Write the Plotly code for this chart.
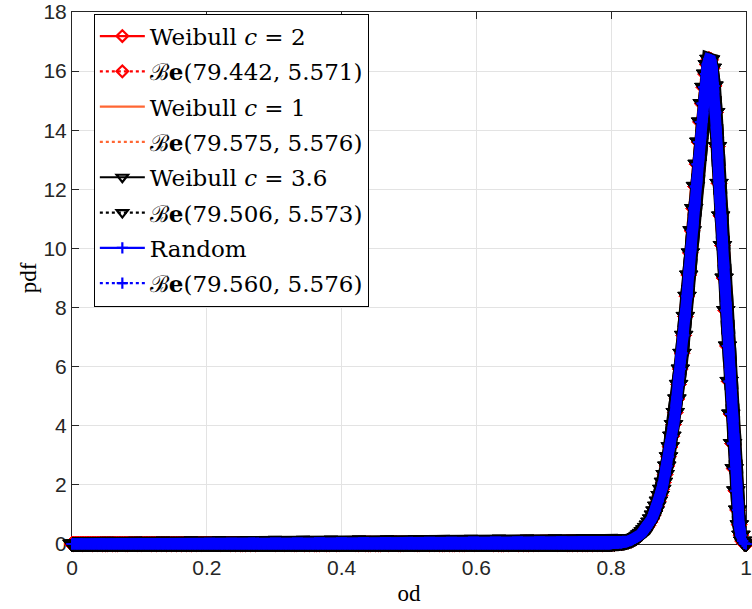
import numpy as np
import plotly.graph_objects as go

# ---- data ----
# sampling grid of the estimated densities (od in [0, 1])
od_flat = np.round(np.arange(0.0, 0.8, 0.0025), 4)          # 0 ... 0.7975
pdf_flat = [0.0] * len(od_flat)                              # density ~ 0 here

od_peak = np.round(np.arange(0.8, 1.00001, 0.0025), 4)       # 0.80 ... 1.00
pdf_peak = [
    0.01, 0.02, 0.02, 0.03, 0.03, 0.04, 0.04, 0.05, 0.06, 0.07,
    0.09, 0.11, 0.13, 0.16, 0.19, 0.22, 0.26, 0.31, 0.36, 0.42,
    0.48, 0.56, 0.64, 0.74, 0.85, 0.98, 1.12, 1.28, 1.45, 1.64,
    1.85, 2.09, 2.35, 2.64, 2.95, 3.29, 3.65, 4.04, 4.45, 4.91,
    5.40, 5.92, 6.45, 7.06, 7.70, 8.38, 9.10, 9.85, 10.60, 11.35,
    12.10, 12.85, 13.60, 14.28, 14.90, 15.45, 15.90, 16.22, 16.40, 16.38,
    16.10, 15.50, 14.60, 13.45, 12.20, 11.10, 10.10, 9.00, 7.90, 6.70,
    5.50, 4.40, 3.40, 2.55, 1.80, 1.15, 0.65, 0.30, 0.10, 0.02,
    0.00,
]

methods = ["Weibull <i>c</i> = 2", "Weibull <i>c</i> = 1",
           "Weibull <i>c</i> = 3.6", "Random"]
beta_a = [79.442, 79.575, 79.506, 79.560]
beta_b = [5.571, 5.576, 5.573, 5.576]

od = np.concatenate([od_flat, od_peak])
pdf = list(pdf_flat) + list(pdf_peak)

# ---- styles ----
styles = [
    dict(color="#FF0000", symbol="diamond-open", fsym="diamond", band=13, msize=12, mlw=1, lsize=9),
    dict(color="#FF6633", symbol=None, fsym=None, band=12, msize=0, mlw=0, lsize=0),
    dict(color="#000000", symbol="triangle-down-open", fsym="triangle-down", band=14, msize=16, mlw=1, lsize=10),
    dict(color="#0000FF", symbol="cross-thin-open", fsym="cross-thin-open", band=11, msize=8, mlw=2, lsize=8),
]

fig = go.Figure()

# drawn curves (dense marker bands)
for m, a, b, st in zip(methods, beta_a, beta_b, styles):
    for dash in ["solid", "dot"]:
        kw = dict(mode="lines")
        if st["symbol"]:
            kw = dict(mode="lines+markers",
                      marker=dict(symbol=st["fsym"], size=st["msize"],
                                  color=st["color"],
                                  line=dict(width=st["mlw"], color=st["color"])))
        fig.add_trace(go.Scatter(
            x=od, y=pdf, showlegend=False, cliponaxis=False, hoverinfo="skip",
            line=dict(color=st["color"], width=st["band"], dash=dash), **kw))

# legend entries
k = 0
for m, a, b, st in zip(methods, beta_a, beta_b, styles):
    for dash, name in [("solid", m),
                       ("dot", f"ℬ<b>e</b>({a:.3f}, {b:.3f})")]:
        kw = dict(mode="lines")
        if st["symbol"]:
            kw = dict(mode="lines+markers",
                      marker=dict(symbol=st["symbol"], size=st["lsize"],
                                  color=st["color"],
                                  line=dict(width=2.2, color=st["color"])))
        fig.add_trace(go.Scatter(
            x=[None], y=[None], name=name, legendgroup=f"g{k}",
            line=dict(color=st["color"], width=2.2, dash=dash), **kw))
        k += 1

axis_common = dict(
    ticks="inside", ticklen=7, tickwidth=1, tickcolor="#262626",
    showline=True, linecolor="#262626", linewidth=1, mirror="ticks",
    showgrid=True, gridcolor="#E3E3E3", gridwidth=1, zeroline=False,
    tickfont=dict(family="Liberation Sans, Arial, sans-serif", size=21, color="#262626"),
    layer="below traces", ticklabeloverflow="allow",
)

fig.update_layout(
    width=752, height=609,
    margin=dict(l=72, r=0, t=8, b=65),
    paper_bgcolor="white", plot_bgcolor="white",
    xaxis=dict(range=[0, 1], tick0=0, dtick=0.2, ticklabelstandoff=5,
               title=dict(text="od", standoff=6,
                          font=dict(family="Liberation Serif, serif", size=23, color="black")),
               **axis_common),
    yaxis=dict(range=[0, 18], tick0=0, dtick=2,
               title=dict(text="pdf", standoff=0,
                          font=dict(family="Liberation Serif, serif", size=23, color="black")),
               **axis_common),
    legend=dict(x=0.0324, y=0.997, xanchor="left", yanchor="top",
                bgcolor="white", bordercolor="black", borderwidth=1,
                font=dict(family="DejaVu Serif, serif", size=23, color="black"),
                itemwidth=45, tracegroupgap=2.4),
    showlegend=True,
)

fig.write_html("out.html")
